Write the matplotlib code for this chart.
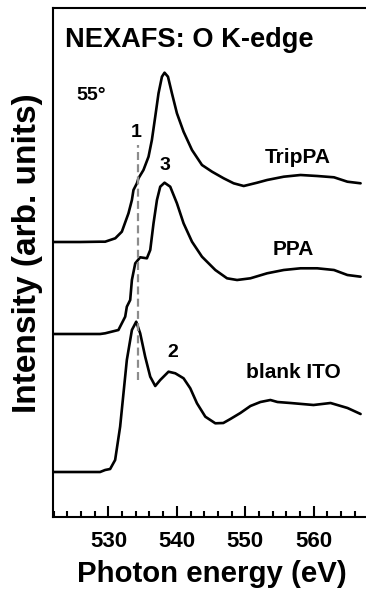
import matplotlib
matplotlib.use("Agg")
import matplotlib.pyplot as plt
from matplotlib.ticker import MultipleLocator, NullLocator

plt.rcParams['font.family'] = ['Liberation Sans', 'DejaVu Sans']
plt.rcParams['font.weight'] = 'bold'

# Photon energy (eV) and intensity (arb. units, offset traces)
trippa_e = [521.9, 525.86, 528.78, 529.52, 531.0, 531.96, 532.93, 533.43, 533.66, 534.16,
            534.39, 535.12, 535.86, 536.35, 536.84, 537.32, 537.82, 538.2, 538.7, 539.28,
            540.01, 540.98, 542.21, 543.67, 545.14, 546.84, 548.3, 549.77, 551.73, 553.19,
            555.62, 558.07, 560.51, 562.96, 564.92, 566.85]
trippa_i = [275, 275, 275.3, 275.3, 278.7, 285.3, 303.7, 317, 327, 333.7,
            338.7, 347, 360.3, 377, 400.3, 423.7, 440.3, 444.3, 440.3, 423.7,
            403.7, 385.3, 367, 352, 345.3, 338.7, 333.7, 331, 334.3, 337,
            340.3, 342, 341, 339.7, 335.3, 333.7]

ppa_e = [521.9, 525.86, 528.78, 529.52, 531.46, 532.45, 532.69, 533.18, 533.43, 533.92,
         534.64, 535.62, 536.11, 536.59, 537.09, 537.57, 538.2, 539.03, 540.01, 540.98,
         542.21, 543.67, 545.62, 547.33, 548.8, 550.75, 553.19, 555.62, 558.07, 560.51,
         562.96, 564.92, 566.85]
ppa_i = [183, 183, 183, 183.7, 187, 200.3, 210.3, 217, 237, 253.7,
         259.7, 258.7, 267, 293.7, 317, 330.3, 334.3, 330.3, 313.7, 293.7,
         275.3, 260.3, 247, 238.7, 237, 238.7, 243.7, 247, 248.7, 248.7,
         247, 242, 240.3]

ito_e = [521.9, 525.86, 528.78, 529.52, 530.25, 530.98, 531.71, 532.2, 532.69, 533.43,
         534.06, 534.64, 535.37, 536.11, 536.84, 537.57, 538.78, 539.77, 540.98, 541.96,
         542.94, 544.16, 545.62, 546.79, 547.82, 549.28, 550.75, 552.21, 553.67, 554.7,
         556.6, 559.97, 562.46, 564.94, 566.85]
ito_i = [45, 45, 45, 47, 48, 57, 90.3, 123.7, 157, 187,
         195.3, 183.7, 160.3, 140.3, 131, 137, 145.3, 143.7, 138.7, 128.7,
         113.7, 100.3, 93.7, 94, 98, 104, 111, 115, 117, 115,
         114, 112, 114, 109, 103]

series_names = ["TripPA", "PPA", "blank ITO"]
peak_labels = ["1", "3", "2"]
xticks = [530, 540, 550, 560]

fig = plt.figure(figsize=(3.66, 5.93), dpi=100)
ax = fig.add_axes([53/366, 76/593, 0.875, 509/593])

for e, i in [(trippa_e, trippa_i), (ppa_e, ppa_i), (ito_e, ito_i)]:
    ax.plot(e, i, color='black', lw=1.9, solid_joinstyle='round', solid_capstyle='round')

ax.plot([534.3, 534.3], [137, 372], color='#8c8c8c', lw=1.6, ls=(0, (3.6, 1.9)))

ax.set_xlim(521.9, 568.7)
ax.set_ylim(0, 509)
ax.set_xticks(xticks)
ax.xaxis.set_minor_locator(MultipleLocator(2))
ax.yaxis.set_major_locator(NullLocator())
ax.tick_params(axis='x', which='major', direction='in', length=8, width=1.5, labelsize=16, pad=10)
ax.tick_params(axis='x', which='minor', direction='in', length=4.3, width=1.5)
for lab in ax.get_xticklabels():
    lab.set_fontweight('bold')
for s in ax.spines.values():
    s.set_linewidth(1.5)
ax.spines['right'].set_visible(False)

fig.text(211.5/366, (593-582)/593, "Photon energy (eV)", fontsize=21.2, fontweight='bold',
         ha='center', va='baseline')
fig.text(27.5/366, 1-253.5/593, "Intensity (arb. units)", fontsize=24, fontweight='bold',
         ha='center', va='center', rotation=90)

ax.text(523.7, 469.7, "NEXAFS: O K-edge", fontsize=19.6, fontweight='bold', va='baseline', ha='left')
ax.text(525.3, 417, "55°", fontsize=14, fontweight='bold', va='baseline', ha='left')
ax.text(534.06, 380.3, peak_labels[0], fontsize=14, fontweight='bold', va='baseline', ha='center')
ax.text(538.2, 347, peak_labels[1], fontsize=14, fontweight='bold', va='baseline', ha='center')
ax.text(539.43, 160.3, peak_labels[2], fontsize=14, fontweight='bold', va='baseline', ha='center')
ax.text(557.6, 353.7, series_names[0], fontsize=15, fontweight='bold', va='baseline', ha='center')
ax.text(557.0, 262, series_names[1], fontsize=15, fontweight='bold', va='baseline', ha='center')
ax.text(557.0, 139.3, series_names[2], fontsize=15, fontweight='bold', va='baseline', ha='center')

fig.savefig("out.png", dpi=100)
